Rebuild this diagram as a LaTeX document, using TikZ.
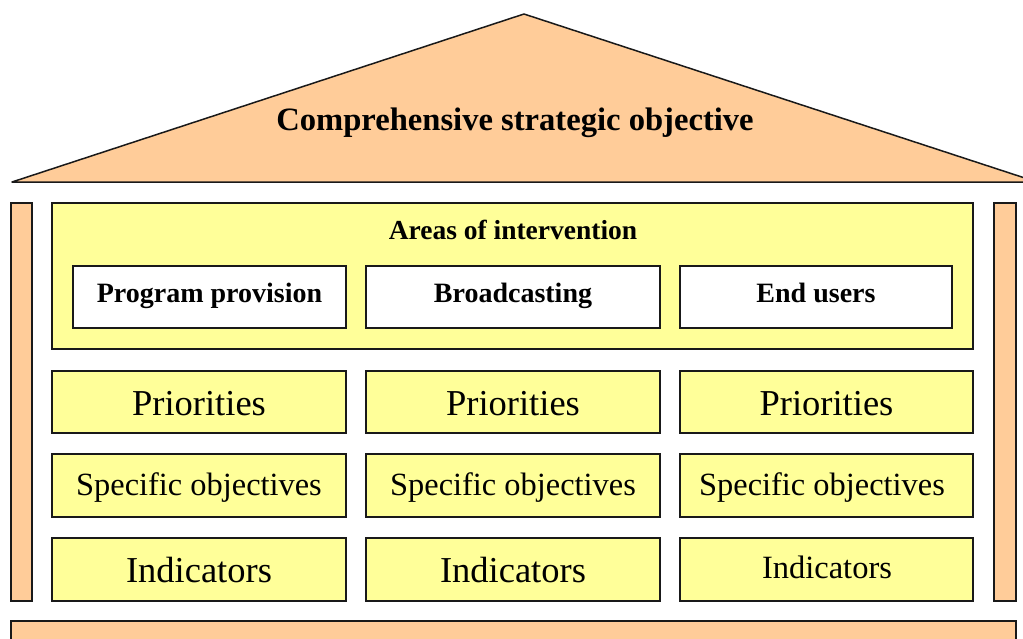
\documentclass[tikz,border=0pt]{standalone}
\usepackage{fontspec}
\setmainfont{Liberation Serif}
\definecolor{peach}{HTML}{FFCC99}
\definecolor{lyellow}{HTML}{FFFF99}
\tikzset{
  frame/.style={draw=black!90, line width=1.5pt},
  peachbox/.style={frame, fill=peach},
  yelbox/.style={frame, fill=lyellow},
  whitebox/.style={frame, fill=white},
  lbl/.style={anchor=base, inner sep=0pt},
}
\begin{document}
\begin{tikzpicture}[x=1pt,y=-1pt]
\useasboundingbox (0,0) rectangle (1023,638);
\clip (0,0) rectangle (1023,638);
% roof
\filldraw[peachbox, line join=round] (12,182) -- (524,14) -- (1037,182) -- cycle;
\node[lbl, font=\fontsize{32.6}{36}\selectfont\bfseries] (title) at (515,130) {Comprehensive strategic objective};
% pillars
\draw[peachbox] (11,203) rectangle (32,601);
\draw[peachbox] (994,203) rectangle (1016,601);
% bottom bar
\draw[peachbox] (11,621) rectangle (1016,660);
% areas
\draw[yelbox] (52,203) rectangle (973,349);
\node[lbl, font=\fontsize{27.5}{30}\selectfont\bfseries] (areas) at (513,239) {Areas of intervention};
\foreach \l/\r/\t/\n in {73/346/Program provision/pp, 366/660/Broadcasting/bc, 680/952/End users/eu}{
  \draw[whitebox] (\l,266) rectangle (\r,328);
  \node[lbl, font=\fontsize{28}{30}\selectfont\bfseries] (\n) at ({(\l+\r)/2},302) {\t};
}
% rows
\foreach \l/\r/\c/\s in {52/346/a/199, 366/660/b/513, 680/973/c/822}{
  \draw[yelbox] (\l,371) rectangle (\r,433);
  \node[lbl, font=\fontsize{36.5}{40}\selectfont] (pri\c) at ({(\l+\r)/2},415) {Priorities};
  \draw[yelbox] (\l,454) rectangle (\r,517);
  \node[lbl, font=\fontsize{32.4}{36}\selectfont] (spo\c) at (\s,495) {Specific objectives};
  \draw[yelbox] (\l,538) rectangle (\r,601);
}
\node[lbl, font=\fontsize{36.5}{40}\selectfont] (inda) at (199,582) {Indicators};
\node[lbl, font=\fontsize{36.5}{40}\selectfont] (indb) at (513,582) {Indicators};
\node[lbl, font=\fontsize{32.5}{36}\selectfont] (indc) at (827,578) {Indicators};
\end{tikzpicture}
\end{document}
